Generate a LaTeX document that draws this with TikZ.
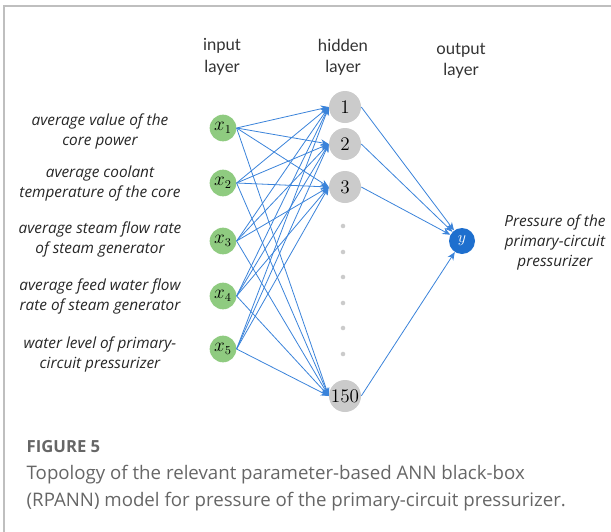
\documentclass[tikz,border=0pt]{standalone}
\usepackage{fontspec}
\setmainfont{Lato}
\newfontfamily\capfont{Open Sans}
\usetikzlibrary{arrows.meta}

\definecolor{inpgreen}{HTML}{8FCB80}
\definecolor{hidgray}{HTML}{CBCBCB}
\definecolor{outblue}{HTML}{1E6FCE}
\definecolor{linkblue}{HTML}{3A83DA}
\definecolor{captext}{HTML}{666666}

\begin{document}
\begin{tikzpicture}[x=0.75pt,y=-0.75pt,
  inp/.style = {circle, fill=inpgreen, inner sep=0pt, minimum size=20pt, font=\fontsize{13.5}{15}\selectfont},
  hid/.style = {circle, fill=hidgray, inner sep=0pt, minimum size=24pt, font=\fontsize{13.5}{15}\selectfont},
  outp/.style = {circle, fill=outblue, text=white, inner sep=0pt, minimum size=19.5pt, font=\large},
  link/.style = {draw=linkblue, line width=0.6pt, -{Stealth[length=6pt,width=5pt]}},
  head/.style = {align=center, font=\fontsize{12.5}{16}\selectfont, text=black!80},
  lbl/.style = {align=center, font=\capfont\fontsize{11.5}{15}\selectfont\itshape, text=black!85}]
\useasboundingbox (0,0) rectangle (611,532);
\draw[black!25, line width=1.2pt] (4,532) -- (4,6) -- (611,6);

% layer titles
\node[head] (tin) at (222,57) {input\\layer};
\node[head] (thid) at (343,57) {hidden\\layer};
\node[head] (tout) at (461,61) {output\\layer};

% input layer
\foreach \i/\y in {1/128,2/183,3/241,4/296,5/349}
  \node[inp] (x\i) at (223,\y) {$x_{\i}$};

% hidden layer
\foreach \n/\y in {1/107,2/144,3/187,150/396}
  \node[hid] (h\n) at (345,\y) {$\n$};
\foreach \y in {226,252,277,303,328,354}
  \fill[hidgray] (343,\y) circle (1.7pt);

% output layer
\node[outp] (y) at (462,241) {$y$};

% connections
\foreach \i in {1,...,5}
  \foreach \n in {1,2,3,150}
    \draw[link] (x\i.east) -- (h\n.west);
\foreach \n in {1,2,3,150}
  \draw[link] (h\n.east) -- (y);

% input descriptions
\node[lbl] (d1) at (100,131) {average value of the\\core power};
\node[lbl] (d2) at (100,184) {average coolant\\temperature of the core};
\node[lbl] (d3) at (100,239) {average steam flow rate\\of steam generator};
\node[lbl] (d4) at (100,296) {average feed water flow\\rate of steam generator};
\node[lbl] (d5) at (100,354) {water level of primary-\\circuit pressurizer};
\node[lbl] (dy) at (555,242) {Pressure of the\\primary-circuit\\pressurizer};

% caption
\node[anchor=base west, text=captext, font=\capfont\fontsize{12.5}{16}\selectfont\bfseries] (fig) at (22,452) {FIGURE 5};
\node[anchor=base west, text=captext, font=\capfont\fontsize{14}{16}\selectfont] (cap1) at (22,479)
  {Topology of the relevant parameter-based ANN black-box};
\node[anchor=base west, text=captext, font=\capfont\fontsize{14}{16}\selectfont] (cap2) at (22,506)
  {(RPANN) model for pressure of the primary-circuit pressurizer.};
\end{tikzpicture}
\end{document}
